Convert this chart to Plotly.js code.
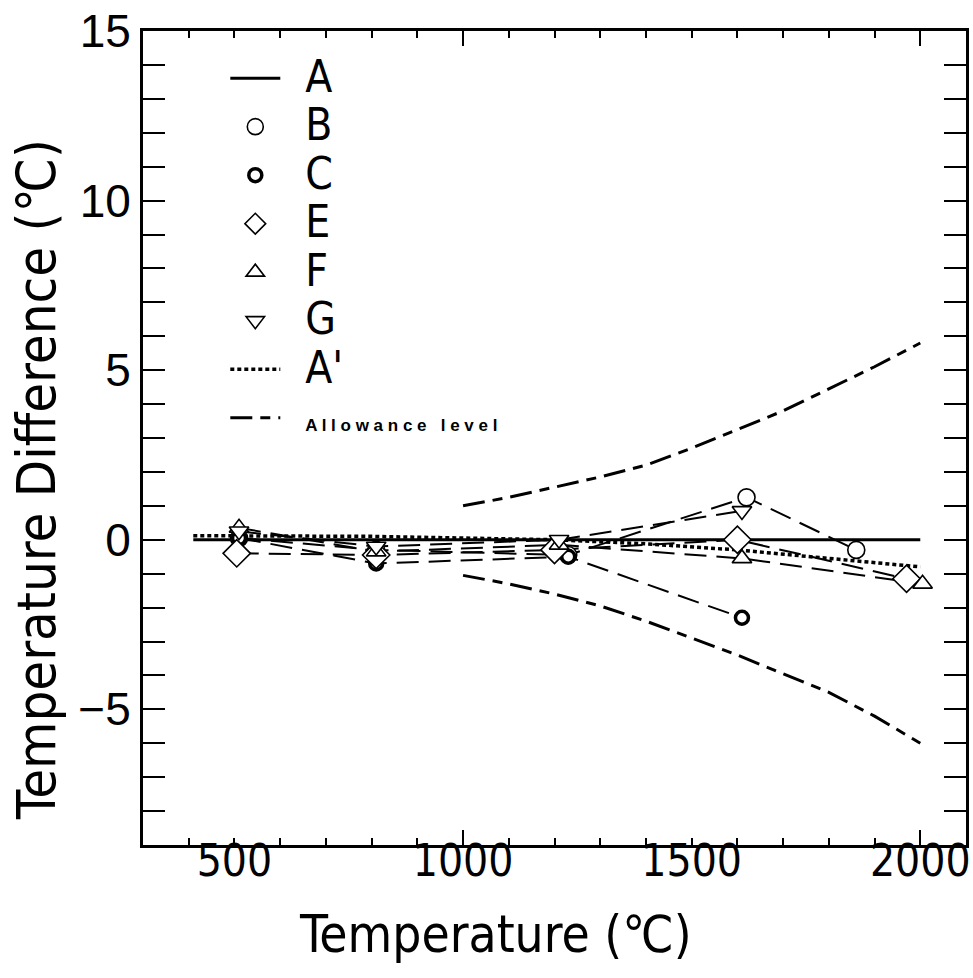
<!DOCTYPE html>
<html>
<head>
<meta charset="utf-8">
<script src="https://cdn.plot.ly/plotly-3.0.1.min.js"></script>
<style>
  html, body { margin: 0; padding: 0; background: #fff; }
  #chart { width: 973px; height: 978px; }
</style>
</head>
<body>
<div id="chart"></div>
<script>
// ---- data ----
const lineA_x = [410, 2000];
const lineA_y = [0, 0];

const lineAp_x = [410, 600, 800, 1000, 1200, 1400, 1600, 1800, 2000];
const lineAp_y = [0.12, 0.12, 0.1, 0.05, 0.0, -0.12, -0.3, -0.55, -0.8];

const allow_x = [1000, 1100, 1200, 1300, 1400, 1500, 1600, 1700, 1800, 1900, 2000];
const allowUpper_y = [1.0, 1.25, 1.55, 1.85, 2.2, 2.7, 3.25, 3.8, 4.45, 5.1, 5.8];
const allowLower_y = [-1.05, -1.3, -1.6, -1.95, -2.4, -2.9, -3.4, -3.95, -4.5, -5.2, -6.0];

const B_x = [510, 810, 1230, 1620, 1860];
const B_y = [0.05, -0.3, -0.45, 1.25, -0.3];

const C_x = [510, 810, 1230, 1610];
const C_y = [0.05, -0.7, -0.5, -2.3];

const E_x = [505, 810, 1200, 1600, 1970];
const E_y = [-0.4, -0.45, -0.3, 0.0, -1.15];

const F_x = [510, 810, 1210, 1610, 2005];
const F_y = [0.35, -0.35, -0.15, -0.55, -1.3];

const G_x = [510, 810, 1210, 1610];
const G_y = [0.25, -0.2, 0.0, 0.85];

const xTickVals = [500, 1000, 1500, 2000];
const xLongTickVals = [1000, 2000];
const yTickVals = [-5, 0, 5, 10, 15];

// ---- styles ----
const ink = '#000';
const cond = '"DejaVu Sans Condensed", "Liberation Sans", sans-serif';
const dataDash = '22px,10px';
const allowDash = '22px,8px,10px,8px';
const pad = '\u00A0\u00A0';
const big = t => pad + '<span style="font-size:44px">' + t + '</span>';

const traces = [];

// allowance level
traces.push({x: allow_x, y: allowUpper_y, mode: 'lines',
  name: pad + '<span style="font-size:17px;font-weight:bold;font-family:Liberation Sans">A l l o w a n c e\u00A0\u00A0 l e v e l</span>',
  line: {color: ink, width: 3, dash: allowDash}, legendgroup: 'allow', legendrank: 8});
traces.push({x: allow_x, y: allowLower_y, mode: 'lines', name: 'Allowance level',
  line: {color: ink, width: 3, dash: allowDash}, legendgroup: 'allow', showlegend: false});

// A and A'
traces.push({x: lineA_x, y: lineA_y, mode: 'lines', name: big('A'),
  line: {color: ink, width: 3}, legendrank: 1});
traces.push({x: lineAp_x, y: lineAp_y, mode: 'lines', name: big("A'"),
  line: {color: ink, width: 3.5, dash: '4px,3px'}, legendrank: 7});

const series = [
  {name: 'B', x: B_x, y: B_y, symbol: 'circle', size: 17, lw: 1.6, rank: 2},
  {name: 'C', x: C_x, y: C_y, symbol: 'circle', size: 13, lw: 3.5, rank: 3},
  {name: 'E', x: E_x, y: E_y, symbol: 'diamond', size: 21, lw: 1.6, rank: 4},
  {name: 'F', x: F_x, y: F_y, symbol: 'triangle-up', size: 17, lw: 1.6, rank: 5},
  {name: 'G', x: G_x, y: G_y, symbol: 'triangle-down', size: 17, lw: 1.6, rank: 6}
];

// connecting dashed lines
series.forEach(s => traces.push({x: s.x, y: s.y, mode: 'lines', name: s.name, showlegend: false,
  line: {color: ink, width: 2, dash: dataDash}}));
// markers (white-filled to cover lines)
series.forEach(s => traces.push({x: s.x, y: s.y, mode: 'markers', name: big(s.name), legendrank: s.rank,
  marker: {symbol: s.symbol, size: s.size, color: '#fff', line: {color: ink, width: s.lw}}}));

// empty trace on the second x axis so the long ticks at 1000/2000 are drawn
traces.push({x: [], y: [], xaxis: 'x2', mode: 'markers', showlegend: false, hoverinfo: 'skip'});

const layout = {
  width: 973, height: 978,
  margin: {l: 143, r: 7, t: 31, b: 133},
  paper_bgcolor: '#fff', plot_bgcolor: '#fff',
  showlegend: true,
  legend: {x: 0.1, y: 0.978, xanchor: 'left', yanchor: 'top', bgcolor: 'rgba(0,0,0,0)',
    font: {family: cond, size: 35, color: ink}, traceorder: 'normal', itemwidth: 50, tracegroupgap: 0},
  xaxis: {
    range: [300, 2100], tickvals: xTickVals, ticks: 'inside', ticklen: 7, tickwidth: 2, tickcolor: ink,
    minor: {dtick: 100, ticks: 'inside', ticklen: 7, tickwidth: 2, tickcolor: ink},
    showline: true, linewidth: 3, linecolor: ink, mirror: 'allticks', showgrid: false, zeroline: false,
    tickfont: {family: cond, size: 44, color: ink}, ticklabelstandoff: -25
  },
  xaxis2: {
    overlaying: 'x', anchor: 'y', side: 'bottom', range: [300, 2100], tickvals: xLongTickVals,
    ticks: 'inside', ticklen: 15, tickwidth: 2, tickcolor: ink, showticklabels: false,
    showline: false, mirror: 'allticks', showgrid: false, zeroline: false
  },
  yaxis: {
    range: [-9, 15], tickvals: yTickVals, ticks: 'inside', ticklen: 22, tickwidth: 2, tickcolor: ink,
    minor: {dtick: 1, ticks: 'inside', ticklen: 17, tickwidth: 2, tickcolor: ink},
    showline: true, linewidth: 3, linecolor: ink, mirror: 'allticks', showgrid: false, zeroline: false,
    tickfont: {family: '"Liberation Sans", Arial, sans-serif', size: 46, color: ink}
  },
  annotations: [
    {text: 'Temperature (℃)', xref: 'paper', yref: 'paper', x: 0.428, y: -0.11, xanchor: 'center', yanchor: 'middle',
     showarrow: false, font: {family: cond, size: 51, color: ink}},
    {text: 'Temperature Difference (℃)', xref: 'paper', yref: 'paper', x: -0.13, y: 0.448, xanchor: 'center', yanchor: 'middle',
     textangle: -90, showarrow: false, font: {family: cond, size: 54, color: ink}}
  ]
};

Plotly.newPlot('chart', traces, layout, {displayModeBar: false, staticPlot: true});
</script>
</body>
</html>
